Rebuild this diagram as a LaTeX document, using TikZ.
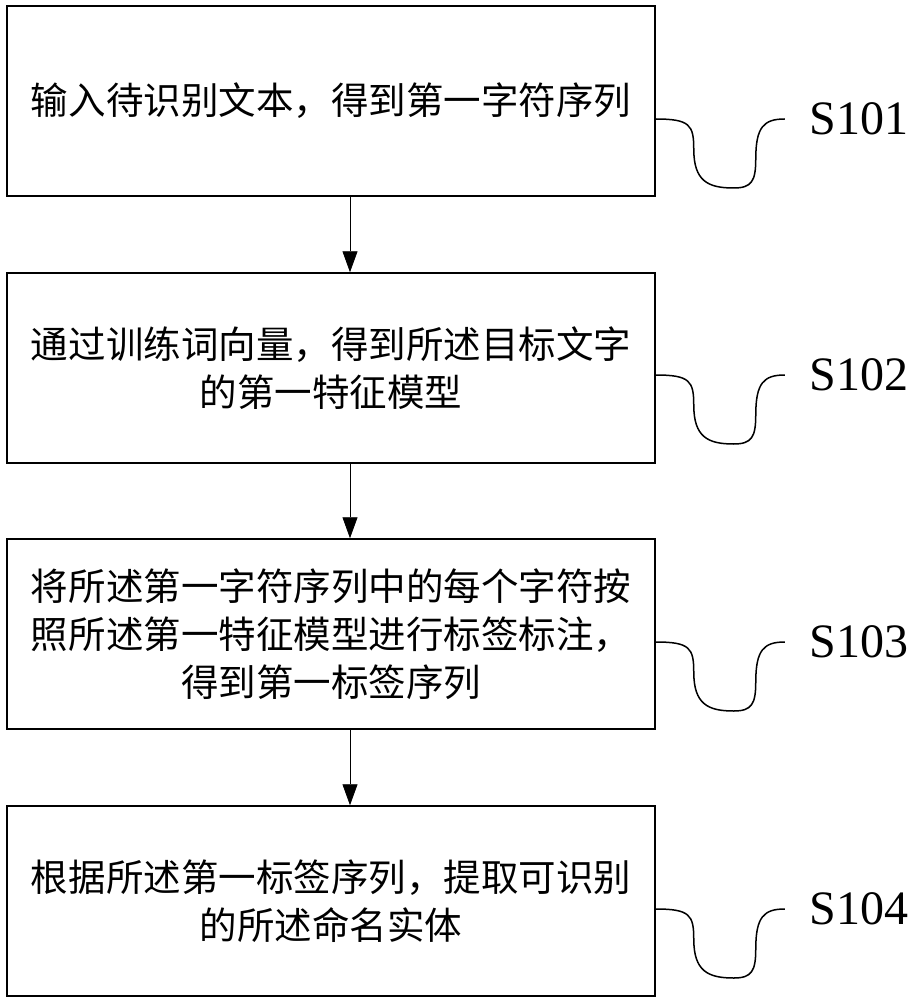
\documentclass[tikz,border=0pt]{standalone}
\usepackage{fontspec}
\setmainfont{Liberation Serif}
\newfontfamily\cjkfont{Noto Sans CJK SC}
\usetikzlibrary{arrows.meta}
\tikzset{
  stepbox/.style={draw=black, line width=1.5pt, minimum width=648pt, minimum height=190pt,
    inner sep=0pt, align=center, text width=630pt,
    font=\cjkfont\fontsize{37.5}{48}\selectfont},
  flow/.style={draw=black, line width=0.8pt, -{Triangle[width=15pt,length=21pt]}},
  wiggle/.style={draw=black, line width=1.5pt},
  steplabel/.style={anchor=west, inner sep=0pt, font=\fontsize{48}{48}\selectfont},
}
\newcommand{\wigglepath}{(0,0) .. controls (34,0) and (38,6) .. (38,30)
  .. controls (38,62) and (52,69) .. (78,69)
  .. controls (96,69) and (100,62) .. (100,40)
  .. controls (100,8) and (108,0) .. (129,0)}
\begin{document}
\begin{tikzpicture}[x=1pt,y=-1pt]
\useasboundingbox (0,0) rectangle (911,1000);

\node[stepbox] (b1) at (331,101) {输入待识别文本，得到第一字符序列};
\node[stepbox] (b2) at (331,368) {通过训练词向量，得到所述目标文字\\的第一特征模型};
\node[stepbox] (b3) at (331,634) {将所述第一字符序列中的每个字符按\\照所述第一特征模型进行标签标注，\\得到第一标签序列};
\node[stepbox] (b4) at (331,901) {根据所述第一标签序列，提取可识别\\的所述命名实体};

\coordinate (ax) at (350,0);
\draw[flow] (b1.south -| ax) -- (b2.north -| ax);
\draw[flow] (b2.south -| ax) -- (b3.north -| ax);
\draw[flow] (b3.south -| ax) -- (b4.north -| ax);

\coordinate (s1) at (b1.east |- 0,119);
\coordinate (s2) at (b2.east |- 0,375);
\coordinate (s3) at (b3.east |- 0,642);
\coordinate (s4) at (b4.east |- 0,909);

\begin{scope}[shift={(s1)}]
  \draw[wiggle] \wigglepath;
  \node[steplabel] (l1) at (154,0) {S101};
\end{scope}
\begin{scope}[shift={(s2)}]
  \draw[wiggle] \wigglepath;
  \node[steplabel] (l2) at (154,0) {S102};
\end{scope}
\begin{scope}[shift={(s3)}]
  \draw[wiggle] \wigglepath;
  \node[steplabel] (l3) at (154,0) {S103};
\end{scope}
\begin{scope}[shift={(s4)}]
  \draw[wiggle] \wigglepath;
  \node[steplabel] (l4) at (154,0) {S104};
\end{scope}
\end{tikzpicture}
\end{document}
